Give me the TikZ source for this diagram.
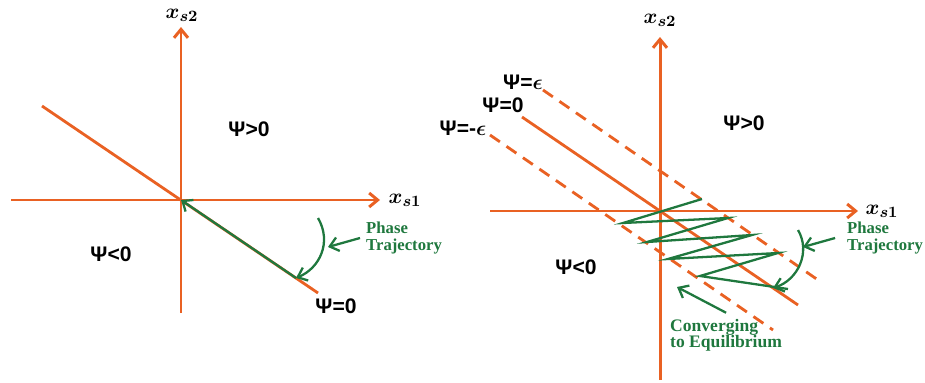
\documentclass[tikz,border=0pt]{standalone}
\usepackage{fontspec}
\setmainfont{Liberation Serif}
\newfontfamily\psifont{Liberation Sans}
\usepackage{amsmath}
\usetikzlibrary{arrows.meta}
\definecolor{axisorange}{RGB}{233,97,35}
\definecolor{trajgreen}{RGB}{31,120,62}

\begin{document}
\begin{tikzpicture}[x=0.02cm, y=-0.02cm,
  axis/.style={draw=axisorange, line width=1.7pt},
  tip/.style={-{Straight Barb[length=1.7mm,width=2.8mm]}},
  surf/.style={draw=axisorange, line width=1.6pt},
  band/.style={surf, dash pattern=on 0.24cm off 0.16cm},
  traj/.style={draw=trajgreen, line width=1.3pt},
  region/.style={font=\psifont\bfseries\fontsize{12}{14}\selectfont},
  axlabel/.style={font=\fontsize{13}{15}\selectfont},
  note/.style={text=trajgreen, align=left, font=\bfseries\fontsize{9.5}{9.7}\selectfont}]
  \useasboundingbox (0,0) rectangle (925,382);

  % sliding line only
  \coordinate (o1) at (181,200);
  \coordinate (h1w) at (11,200);  \coordinate (h1e) at (380,200);
  \coordinate (v1s) at (181,313); \coordinate (v1n) at (181,27);
  \node[axlabel] (xa1) at (405,200) {$\boldsymbol{x_{s1}}$};
  \node[axlabel] (xb1) at (182,15) {$\boldsymbol{x_{s2}}$};
  \draw[axis,tip] (h1w) -- (h1e);
  \draw[axis,tip] (v1s) -- (v1n);

  \coordinate (s1a) at (42,106); \coordinate (s1b) at (318,293);
  \draw[surf] (s1a) -- (s1b);
  \coordinate (p1) at (296,278); \coordinate (a1) at (318,218);
  \coordinate (k1) at (328,247);
  \draw[traj,tip] (p1) -- (o1);
  \draw[traj,tip] (a1) .. controls (332,242) and (320,268) .. (p1);
  \node[note,anchor=west] (ph1) at (360,238) {Phase\\Trajectory};
  \draw[traj,tip] (ph1.west) -- (k1);

  \node[region] (pos1) at (249,129) {Ψ>0};
  \node[region] (neg1) at (111,254) {Ψ<0};
  \node[region] (zero1) at (336,306) {Ψ=0};

  % boundary layer
  \coordinate (o2) at (660,211);
  \coordinate (h2w) at (490,211); \coordinate (h2e) at (858,211);
  \coordinate (v2s) at (660,380); \coordinate (v2n) at (660,37);
  \node[axlabel] (xa2) at (882,211) {$\boldsymbol{x_{s1}}$};
  \node[axlabel] (xb2) at (660,20) {$\boldsymbol{x_{s2}}$};
  \draw[axis,tip] (h2w) -- (h2e);
  \draw[axis,tip] (v2s) -- (v2n);

  \coordinate (s2a) at (522,117); \coordinate (s2b) at (798,305);
  \coordinate (u2a) at (543,90);  \coordinate (u2b) at (818,280);
  \coordinate (l2a) at (490,135); \coordinate (l2b) at (773,330);
  \draw[surf] (s2a) -- (s2b);
  \draw[band] (u2a) -- (u2b);
  \draw[band] (l2a) -- (l2b);

  \node[region] (eps2) at (523,82) {Ψ=$\boldsymbol{\epsilon}$};
  \node[region] (zero2) at (503,105) {Ψ=0};
  \node[region] (meps2) at (463,128) {Ψ=-$\boldsymbol{\epsilon}$};
  \node[region] (pos2) at (744,123) {Ψ>0};
  \node[region] (neg2) at (576,267) {Ψ<0};

  \draw[traj] (788,289) -- (700,276) -- (778,253) -- (668,259) -- (752,235)
    -- (647,242) -- (728,218) -- (623,223) -- (702,199);
  \coordinate (p2) at (773,288); \coordinate (a2) at (798,230);
  \coordinate (k2) at (803,247);
  \draw[traj,tip] (a2) .. controls (811,252) and (798,280) .. (p2);
  \node[note,anchor=east,inner xsep=1pt] (ph2) at (925,238) {Phase\\Trajectory};
  \draw[traj,tip] ([xshift=-0.2cm]ph2.west) -- (k2);

  \coordinate (k3) at (677,287);
  \node[note,anchor=west,font=\bfseries\fontsize{10}{9.2}\selectfont] (cv) at (664,335)
    {Converging\\to Equilibrium};
  \draw[traj,tip] (cv.north) -- (k3);
\end{tikzpicture}
\end{document}
